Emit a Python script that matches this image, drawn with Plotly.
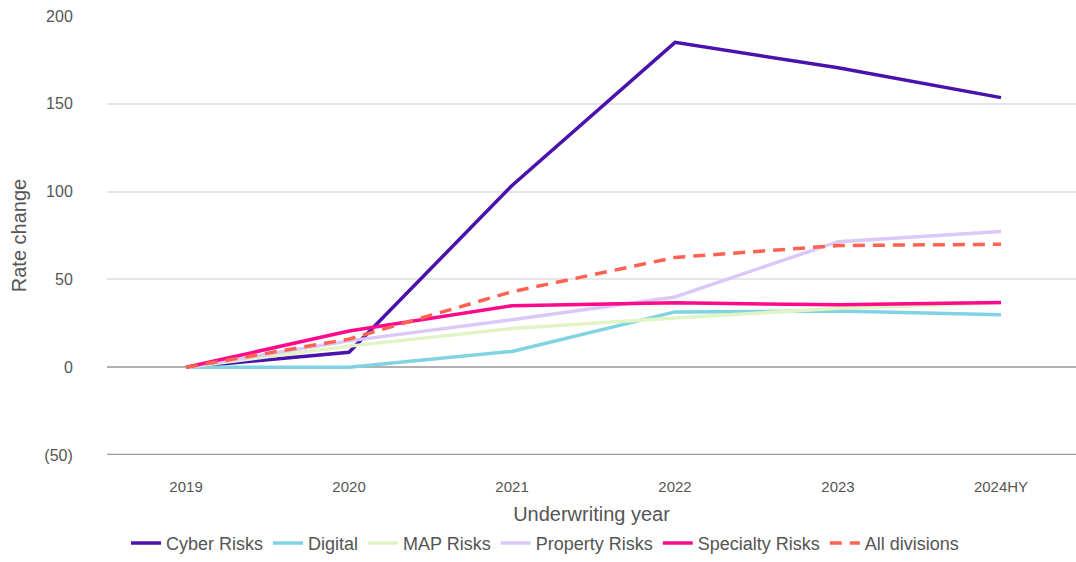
import plotly.graph_objects as go

years = ["2019", "2020", "2021", "2022", "2023", "2024HY"]
cyber = [0, 8.5, 103.5, 185, 170.5, 153.5]
digital = [0, 0, 9, 31.5, 32, 29.8]
map_risks = [0, 12, 22, 28, 33.5, 36.5]
property_risks = [0, 15, 27, 40, 71.5, 77.3]
specialty = [0, 20.6, 35, 36.7, 35.5, 36.8]
all_div = [0, 16, 43, 62.5, 69.3, 70]

y_tickvals = [-50, 0, 50, 100, 150, 200]
y_ticktext = ["(50)", "0", "50", "100", "150", "200"]

series = [
    ("Cyber Risks", cyber, "#4a12ac", "solid"),
    ("Digital", digital, "#7fd3e3", "solid"),
    ("MAP Risks", map_risks, "#e1f4c6", "solid"),
    ("Property Risks", property_risks, "#dac8f6", "solid"),
    ("Specialty Risks", specialty, "#ff0a8a", "solid"),
    ("All divisions", all_div, "#ff6152", "12px,8px"),
]

fig = go.Figure()
for name, vals, color, dash in series:
    fig.add_trace(go.Scatter(
        x=list(range(len(years))), y=vals, name=name, mode="lines",
        line=dict(color=color, width=3.5, dash=dash),
    ))

narrow = "Liberation Sans Narrow, Arial Narrow, sans-serif"
fig.update_layout(
    width=1076, height=562,
    margin=dict(l=107, r=0, t=16, b=107),
    paper_bgcolor="white", plot_bgcolor="white",
    showlegend=True,
    legend=dict(orientation="h", x=0.452, xanchor="center", y=-0.243, yanchor="bottom",
                font=dict(family=narrow, size=18, color="#555555"),
                itemwidth=30, tracegroupgap=0),
    xaxis=dict(
        tickmode="array", tickvals=list(range(len(years))), ticktext=years,
        range=[-0.485, 5.46], showgrid=False, zeroline=False,
        showline=False, ticks="outside", ticklen=18, tickcolor="rgba(0,0,0,0)",
        tickfont=dict(family=narrow, size=15, color="#555555"),
        title=dict(text="Underwriting year", font=dict(family=narrow, size=20, color="#555555"), standoff=12),
    ),
    yaxis=dict(
        tickmode="array", tickvals=y_tickvals, ticktext=y_ticktext,
        range=[-50, 200], showgrid=True, gridcolor="#e6e6e6", gridwidth=2,
        zeroline=True, zerolinecolor="#b0b0b0", zerolinewidth=2,
        showline=False, ticks="outside", ticklen=30, tickcolor="rgba(0,0,0,0)",
        tickfont=dict(family="Liberation Sans, Arial, sans-serif", size=16, color="#555555"),
        title=dict(text="Rate change", font=dict(family="Liberation Sans, Arial, sans-serif", size=20, color="#555555"), standoff=12),
    ),
)
fig.add_shape(type="line", xref="paper", yref="y", x0=0, x1=1, y0=-50, y1=-50,
              line=dict(color="#999999", width=2.5))

fig.write_html("out.html")
